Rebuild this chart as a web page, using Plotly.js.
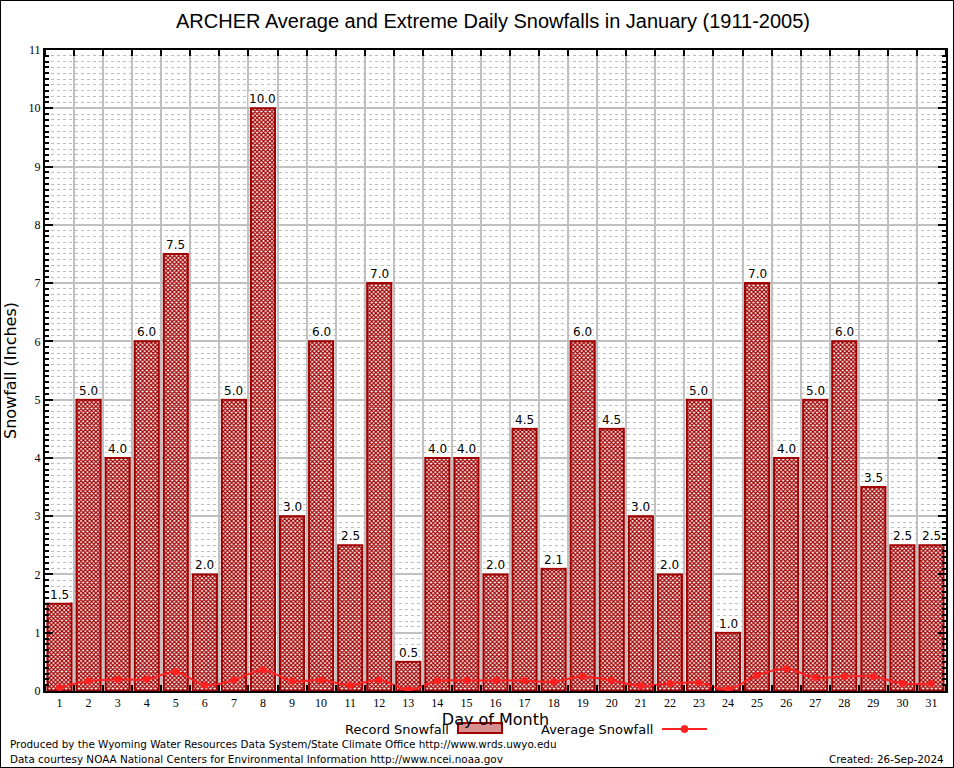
<!DOCTYPE html>
<html>
<head>
<meta charset="utf-8">
<script src="https://cdn.plot.ly/plotly-3.0.1.min.js"></script>
<style>
html,body{margin:0;padding:0;background:#fff;}
#chart{width:952px;height:766px;border:1px solid #000;}
</style>
</head>
<body>
<div id="chart"></div>
<script>
const days = [1,2,3,4,5,6,7,8,9,10,11,12,13,14,15,16,17,18,19,20,21,22,23,24,25,26,27,28,29,30,31];
const recordSnowfall = [1.5,5.0,4.0,6.0,7.5,2.0,5.0,10.0,3.0,6.0,2.5,7.0,0.5,4.0,4.0,2.0,4.5,2.1,6.0,4.5,3.0,2.0,5.0,1.0,7.0,4.0,5.0,6.0,3.5,2.5,2.5];
const averageSnowfall = [0.06,0.17,0.20,0.20,0.33,0.10,0.19,0.36,0.17,0.19,0.10,0.19,0.02,0.17,0.18,0.18,0.18,0.16,0.25,0.18,0.09,0.13,0.14,0.03,0.27,0.38,0.23,0.25,0.25,0.13,0.13];
const titleText = 'ARCHER Average and Extreme Daily Snowfalls in January (1911-2005)';

const L = 45, R = 946, T = 50, B = 691;
const W = R - L, H = B - T;
const px = x => (x - L) / W;
const py = y => (B - y) / H;

const barTrace = {
  type: 'bar', x: days, y: recordSnowfall, width: 0.83,
  name: 'Record Snowfall', showlegend: false, hoverinfo: 'y',
  marker: {
    color: 'white',
    line: {color: '#a00000', width: 2},
    pattern: {shape: 'x', fgcolor: '#a00000', bgcolor: '#ffffff', size: 3, solidity: 0.65}
  }
};
const lineTrace = {
  type: 'scatter', mode: 'lines+markers', x: days, y: averageSnowfall,
  name: 'Average Snowfall', showlegend: false,
  line: {color: '#ff2020', width: 2, shape: 'spline'},
  marker: {color: '#ff2020', size: 7, symbol: 'circle'}
};

const annotations = recordSnowfall.map((v, i) => ({
  x: days[i], y: v, xref: 'x', yref: 'y', text: v.toFixed(1), showarrow: false,
  yanchor: 'bottom', yshift: 1, bgcolor: '#ffffff', borderpad: 0,
  font: {family: 'DejaVu Sans', size: 12, color: '#000'}
}));
const foot = {family: 'DejaVu Sans', size: 10.4, color: '#000'};
annotations.push(
  {xref:'paper', yref:'paper', x: px(8), y: py(744), xanchor:'left', yanchor:'middle', showarrow:false,
   text:'Produced by the Wyoming Water Resources Data System/State Climate Office http://www.wrds.uwyo.edu', font: foot},
  {xref:'paper', yref:'paper', x: px(8), y: py(759), xanchor:'left', yanchor:'middle', showarrow:false,
   text:'Data courtesy NOAA National Centers for Environmental Information http://www.ncei.noaa.gov', font: foot},
  {xref:'paper', yref:'paper', x: px(946), y: py(759), xanchor:'right', yanchor:'middle', showarrow:false,
   text:'Created: 26-Sep-2024', font: foot},
  {xref:'paper', yref:'paper', x: px(451), y: py(729), xanchor:'right', yanchor:'middle', showarrow:false,
   text:'Record Snowfall', font: {family:'DejaVu Sans', size: 13, color:'#000'}},
  {xref:'paper', yref:'paper', x: px(655), y: py(729), xanchor:'right', yanchor:'middle', showarrow:false,
   text:'Average Snowfall', font: {family:'DejaVu Sans', size: 13, color:'#000'}}
);

const shapes = [
  {type:'rect', xref:'paper', yref:'paper', x0: px(458), x1: px(502), y0: py(733), y1: py(723),
   line:{color:'#a00000', width:2}, fillcolor:'#d89090'},
  {type:'line', xref:'paper', yref:'paper', x0: px(662), x1: px(707), y0: py(729), y1: py(729),
   line:{color:'#ff2020', width:2}},
  {type:'circle', xref:'paper', yref:'paper', x0: px(681), x1: px(688), y0: py(732.5), y1: py(725.5),
   line:{color:'#ff2020', width:1}, fillcolor:'#ff2020'}
];

const tickFont = {family: 'Liberation Serif', size: 12, color: '#000'};
const layout = {
  width: 952, height: 766,
  margin: {l: L - 1, r: 954 - R - 1, t: T - 1, b: 768 - B - 1},
  paper_bgcolor: '#fff', plot_bgcolor: '#fff',
  showlegend: false,
  title: {text: titleText, xref: 'container', x: 492/952, xanchor: 'center', yref: 'container', y: 1 - 20/766, yanchor: 'middle',
          font: {family: 'Liberation Sans', size: 20, color: '#000'}},
  xaxis: {
    range: [0.5, 31.5], tickvals: days, ticktext: days.map(String), ticks: '',
    showgrid: false, zeroline: false, tickfont: tickFont,
    showline: true, linecolor: '#000', linewidth: 2, mirror: 'allticks',
    minor: {tick0: 0.5, dtick: 1, showgrid: true, gridcolor: '#c0c0c0', gridwidth: 2,
            ticks: 'inside', ticklen: 6, tickcolor: '#000', tickwidth: 2},
    title: {text: 'Day of Month', standoff: 0, font: {family: 'DejaVu Sans', size: 16, color: '#000'}}
  },
  yaxis: {
    range: [0, 11], dtick: 1, tick0: 0, ticks: 'inside', ticklen: 8, tickcolor: '#000', tickwidth: 2,
    showgrid: true, gridcolor: '#c0c0c0', gridwidth: 2, zeroline: false, tickfont: tickFont,
    showline: true, linecolor: '#000', linewidth: 2, mirror: 'allticks',
    minor: {dtick: 0.1, showgrid: true, gridcolor: '#bdbdbd', gridwidth: 1, griddash: '3px,3px',
            ticks: 'inside', ticklen: 4, tickcolor: '#000', tickwidth: 2},
    title: {text: 'Snowfall (Inches)', standoff: 12, font: {family: 'DejaVu Sans', size: 16, color: '#000'}}
  },
  annotations: annotations,
  shapes: shapes
};

Plotly.newPlot('chart', [barTrace, lineTrace], layout, {displayModeBar: false, staticPlot: true});
</script>
</body>
</html>
